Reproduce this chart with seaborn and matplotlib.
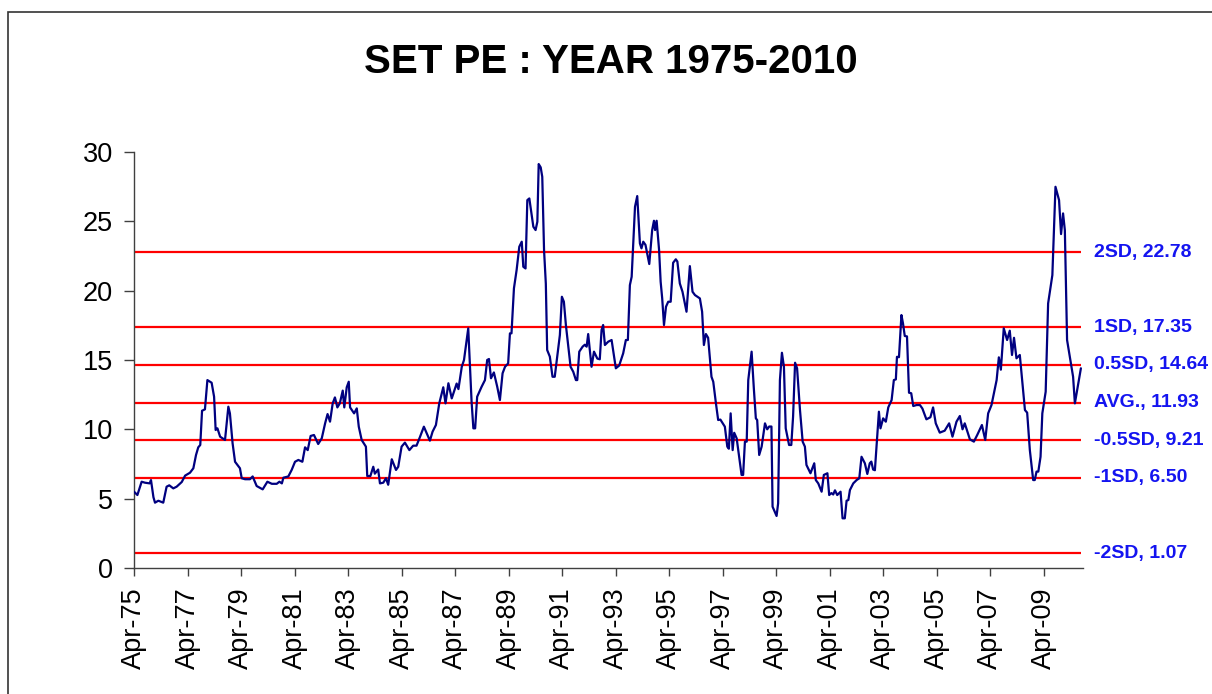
import pandas as pd
import seaborn as sns
import matplotlib.pyplot as plt
from matplotlib.patches import Rectangle

# months counted from Apr-75, PE
months = [
    0.0, 1.5, 3.4, 4.9, 7.0, 7.6, 8.7, 9.4, 10.9, 13.1, 14.6, 15.8, 17.6, 19.1,
    21.4, 22.9, 25.1, 26.6, 27.8, 28.8, 29.7, 30.5, 31.8, 32.9, 34.8, 35.9, 36.6,
    37.4, 38.6, 40.8, 42.3, 43.0, 44.2, 45.3, 47.5, 48.3, 49.8, 52.0, 53.2, 55.0,
    57.7, 59.8, 61.8, 64.0, 65.2, 66.3, 67.0, 69.2,
    70.7, 72.2, 73.7, 75.5, 76.7, 77.9, 79.2, 80.7, 82.6, 84.2, 85.7, 86.8, 87.9,
    89.1, 90.1, 91.2, 92.3, 93.6, 94.3, 95.4, 96.3, 96.9, 98.7, 99.9, 100.8,
    102.1, 104.0, 104.6, 106.0, 107.3, 108.0, 109.5, 110.3, 111.8, 113.0, 114.0,
    115.6, 117.5, 118.5, 120.0, 121.5, 123.5, 125.2, 126.7, 128.3, 130.0, 132.7,
    133.9, 135.4, 136.9, 138.7, 139.7, 141.0,
    142.5, 144.7, 145.5, 147.0, 148.0, 149.9, 151.4, 152.2, 153.0, 153.9, 155.9,
    157.4, 158.4, 159.2, 160.1, 161.4, 162.9, 164.1, 165.3, 166.4, 167.8, 168.6,
    169.3, 170.4, 171.6, 172.8, 173.9, 174.6, 175.6, 176.4, 177.3, 179.1, 180.1,
    180.9, 181.5, 182.4, 183.1, 183.9, 184.7, 185.3, 186.5, 187.7, 188.7, 189.8,
    191.0, 191.9, 192.8, 193.7, 195.8, 197.0, 198.2, 198.8, 199.7, 201.2, 202.2,
    203.0, 203.7, 205.2, 206.3, 207.8, 208.9,
    209.7, 210.4, 211.2, 212.7, 214.2, 216.1, 217.6, 219.4, 220.6, 221.5, 222.4,
    223.2, 224.7, 225.7, 226.9, 227.6, 228.4, 229.4, 231.1, 232.4, 233.2, 233.7,
    234.4, 235.5, 236.2, 236.9, 237.7, 238.6, 239.6, 240.7, 241.8, 243.0, 243.7,
    244.8, 246.0, 247.8, 249.3, 250.5, 251.6, 253.8, 254.8, 255.6, 256.5, 257.5,
    259.0, 259.8, 261.0, 262.0, 263.0, 265.0, 266.1, 266.8, 267.6, 268.5, 269.2,
    270.3, 271.4, 272.5, 273.2, 274.0, 274.8, 275.5, 277.0, 278.0, 278.9, 279.5,
    280.4, 281.5, 283.0, 284.0, 284.9, 285.9,
    286.4, 288.2, 288.9, 289.7, 290.6, 291.5, 292.3, 293.8, 294.8, 295.6, 296.5,
    297.4, 298.7, 299.9, 300.9, 301.6, 303.4, 305.1, 305.8, 306.9, 308.4, 309.4,
    311.0, 311.8, 312.8, 313.6, 314.4, 315.4, 316.9, 317.8, 318.8, 319.6, 320.4,
    321.1, 322.6, 324.1, 325.3, 326.3, 327.8, 328.9, 330.0, 330.7, 331.5, 332.3,
    334.1, 334.8, 336.0, 337.2, 338.3, 339.8, 340.8, 341.7, 342.2, 343.1, 344.2,
    344.9, 345.7, 346.7, 347.6, 348.6, 349.5, 351.0, 352.5, 353.6, 355.4, 357.2,
    358.4, 359.6, 361.4, 363.6, 365.6, 367.1, 368.9, 370.4, 371.6, 372.6, 374.9,
    376.7, 378.2, 380.3, 381.8, 383.1, 384.6, 386.9, 387.9, 388.8, 390.1, 391.6,
    392.8, 393.8, 394.7, 395.8, 397.3, 399.6, 400.6, 401.8, 403.3, 404.0, 404.8,
    405.6, 406.6, 407.4, 408.9, 410.0, 411.9, 413.3, 414.9, 415.8, 416.7, 417.5,
    418.5, 420.5, 421.2, 422.0, 424.7,
]
pe = [
    5.5, 5.26, 6.22, 6.15, 6.1, 6.34, 5.1, 4.71, 4.85, 4.71, 5.86, 5.96, 5.74, 5.86,
    6.2, 6.66, 6.87, 7.19, 8.15, 8.7, 8.87, 11.34, 11.44, 13.55, 13.36, 12.35, 9.95,
    10.07, 9.47, 9.23, 11.63, 11.15, 8.99, 7.66, 7.19, 6.47, 6.4, 6.4, 6.6, 5.91,
    5.67, 6.22, 6.07, 6.07, 6.22, 6.1, 6.51, 6.6,
    7.07, 7.66, 7.79, 7.66, 8.7, 8.5, 9.52, 9.59, 8.94, 9.35, 10.43, 11.1, 10.55,
    11.87, 12.3, 11.58, 11.87, 12.79, 11.58, 13.03, 13.43, 11.58, 11.15, 11.51, 10.19,
    9.23, 8.75, 6.63, 6.63, 7.3, 6.8, 7.1, 6.1, 6.15, 6.47, 6.0,
    7.84, 7.07, 7.3, 8.75, 9.04, 8.5, 8.82, 8.82, 9.47, 10.19, 9.18,
    9.83, 10.31, 11.87, 13.03, 11.87, 13.32,
    12.23, 13.3, 12.9, 14.51, 15.0, 17.28, 11.99, 10.07, 10.07, 12.35, 13.07,
    13.55, 15.0, 15.07, 13.68, 14.1, 13.07, 12.11, 14.04, 14.51, 14.75, 16.92,
    16.92, 20.17, 21.49, 23.17, 23.53, 21.72, 21.6, 26.53, 26.65, 24.61, 24.37,
    24.97, 29.13, 28.89, 28.21, 22.93, 20.5, 15.72, 15.24, 13.79, 13.79, 15.24,
    16.8, 19.56, 19.2, 17.52, 14.51, 14.15, 13.55, 13.55, 15.6, 15.96, 16.1,
    15.96, 16.87, 14.51, 15.6, 15.1, 15.05,
    17.16, 17.52, 16.08, 16.32, 16.44, 14.4, 14.6, 15.48, 16.44, 16.44, 20.4,
    21.0, 26.05, 26.82, 23.41, 23.05, 23.53, 23.3, 21.92, 24.37, 25.04, 24.37,
    25.04, 22.93, 20.64, 19.44, 17.52, 18.84, 19.2, 19.2, 22.01, 22.26, 22.1,
    20.52, 19.92, 18.48, 21.77, 19.92, 19.68, 19.44, 18.48, 16.08, 16.87, 16.6,
    13.79, 13.43, 11.87, 10.67, 10.7, 10.19, 8.75, 8.6, 11.15, 8.5, 9.75,
    9.35, 8.02, 6.71, 6.71, 9.11, 9.11, 13.55, 15.6, 12.95, 10.79, 10.67,
    8.15, 8.75, 10.43, 10.0, 10.2, 10.2,
    4.42, 3.75, 4.66, 13.55, 15.52, 14.51, 10.07, 8.87, 8.87, 10.91, 14.8,
    14.4, 11.39, 9.11, 8.75, 7.43, 6.83, 7.55, 6.34, 6.1, 5.5, 6.71,
    6.83, 5.26, 5.4, 5.3, 5.6, 5.26, 5.5, 3.58, 3.58, 4.85, 4.9,
    5.62, 6.1, 6.34, 6.47, 8.02, 7.55, 6.78, 7.55, 7.67, 7.1, 7.05,
    11.27, 10.07, 10.79, 10.55, 11.58, 12.11, 13.55, 13.6, 15.23, 15.2, 18.24,
    17.64, 16.73, 16.7, 12.64, 12.6, 11.68, 11.75, 11.75, 11.5, 10.72, 10.87,
    11.58, 10.43, 9.76, 9.9, 10.43, 9.47, 10.55, 10.96, 10.0, 10.43, 9.28,
    9.11, 9.59, 10.31, 9.23, 11.15, 11.75, 13.55, 15.19, 14.3, 17.28, 16.44,
    17.11, 15.36, 16.6, 15.12, 15.36, 11.39, 11.2, 8.5, 6.34, 6.34, 6.95,
    6.95, 8.02, 11.15, 12.71, 19.08, 21.12, 27.49, 26.53, 24.08, 25.57, 24.37,
    16.44, 14.51, 13.79, 11.87, 14.4,
]

band_names = ['2SD', '1SD', '0.5SD', 'AVG.', '-0.5SD', '-1SD', '-2SD']
band_values = [22.78, 17.35, 14.64, 11.93, 9.21, 6.50, 1.07]

tick_months = list(range(0, 409, 24))
tick_labels = ['Apr-75', 'Apr-77', 'Apr-79', 'Apr-81', 'Apr-83', 'Apr-85',
               'Apr-87', 'Apr-89', 'Apr-91', 'Apr-93', 'Apr-95', 'Apr-97',
               'Apr-99', 'Apr-01', 'Apr-03', 'Apr-05', 'Apr-07', 'Apr-09']

sns.set_style('white')
plt.rcParams['font.family'] = ['Liberation Sans', 'DejaVu Sans']
plt.rcParams['text.color'] = 'black'
plt.rcParams['xtick.color'] = 'black'
plt.rcParams['ytick.color'] = 'black'

fig = plt.figure(figsize=(12.12, 6.94), dpi=100)
ax = fig.add_axes([0.1106, 0.1816, 0.7827, 0.5994])

ax.hlines(band_values, 0, 424.7, colors='#ff0000', linewidth=1.6, zorder=2)

pe_data = pd.DataFrame({'month': months, 'pe': pe})
sns.lineplot(data=pe_data, x='month', y='pe', ax=ax, color='#000080',
             linewidth=1.6, zorder=3)

for name, val in zip(band_names, band_values):
    ax.text(1.012, val, f'{name}, {val:.2f}', transform=ax.get_yaxis_transform(),
            ha='left', va='center', color='#1414f0', fontsize=14,
            fontweight='bold', clip_on=False)

ax.set_xlim(0, 425.5)
ax.set_ylim(0, 30)
ax.set_yticks(range(0, 31, 5))
ax.set_xticks(tick_months)
ax.set_xticklabels(tick_labels, rotation=90)
ax.set_xlabel('')
ax.set_ylabel('')

ax.tick_params(axis='y', direction='out', length=7, width=1, labelsize=19.5,
               pad=8, left=True, color='#404040', labelcolor='black')
ax.tick_params(axis='x', direction='out', length=6, width=1, labelsize=19.5,
               pad=8, bottom=True, color='#404040', labelcolor='black')
for side in ['top', 'right']:
    ax.spines[side].set_visible(False)
for side in ['left', 'bottom']:
    ax.spines[side].set_color('#404040')
    ax.spines[side].set_linewidth(1)

fig.text(0.504, 0.91, 'SET PE : YEAR 1975-2010', ha='center', va='center',
         fontsize=29, fontweight='bold', color='black')

# chart-area frame, only top and left edges fall inside the picture
fig.patches.append(Rectangle((8 / 1212, -0.1), 1.2, 1.1 - 12 / 694,
                             transform=fig.transFigure, fill=False,
                             edgecolor='#333333', linewidth=1.2))

fig.savefig('out.png', dpi=100)
